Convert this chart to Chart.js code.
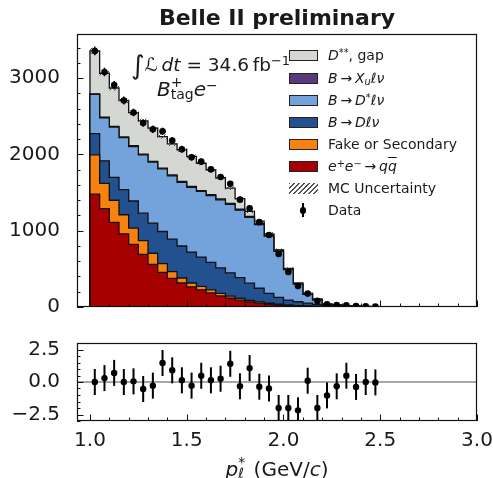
<!DOCTYPE html>
<html lang="en">
<head>
<meta charset="utf-8">
<title>Belle II preliminary - lepton momentum</title>
<script src="https://cdn.jsdelivr.net/npm/chart.js@4.4.1/dist/chart.umd.min.js"></script>
<style>
  html, body { margin: 0; padding: 0; background: #fff; }
  #page { position: relative; width: 493px; height: 478px; overflow: hidden; background: #fff;
          font-family: 'DejaVu Sans', sans-serif; color: #1a1a1a; }
  canvas { position: absolute; left: 0; }
  #main-chart { top: 0; }
  #pull-chart { top: 330px; }
  .label { position: absolute; white-space: nowrap; line-height: 1; }
  .label sup, .label sub { font-size: 70%; line-height: 0; position: relative; vertical-align: baseline; }
  .label sup { top: -0.45em; }
  .label sub { top: 0.25em; }
  .ss { display: inline-block; position: relative; height: 1em; }
  .ss span { position: absolute; left: 0; font-size: 70%; line-height: 1; }
  #title { left: 77px; width: 400px; top: 7px; text-align: center; font-weight: bold; font-size: 22px; }
  #lumi { left: 131px; top: 49px; font-size: 18.5px; }
  #lumi .int { font-size: 26px; position: relative; top: 3px; }
  #tag { left: 157px; top: 76px; font-size: 20px; }
  #xtitle { left: 77px; width: 400px; top: 456px; text-align: center; font-size: 20px; }
  .leg-row { position: absolute; left: 289px; width: 190px; height: 14px; }
  .leg-patch { position: absolute; left: 0; top: 2px; width: 27px; height: 9px; border: 1px solid #222; }
  .leg-text { position: absolute; left: 39px; top: 0; font-size: 14px; line-height: 1; white-space: nowrap; }
  .bar { text-decoration: overline; }
</style>
</head>
<body>
<div id="page">
  <canvas id="main-chart" width="493" height="330"></canvas>
  <canvas id="pull-chart" width="493" height="148"></canvas>

  <div id="title" class="label">Belle II preliminary</div>
  <div id="lumi" class="label"><span class="int">∫</span><i>ℒ</i>&thinsp;<i>dt</i> = 34.6&thinsp;fb<sup>−1</sup></div>
  <div id="tag" class="label"><i>B</i><span class="ss" style="width:23px"><span style="top:-1px">+</span><span style="top:11px">tag</span></span><i>e</i><sup>−</sup></div>
  <div id="xtitle" class="label"><i>p</i><span class="ss" style="width:9px"><span style="top:-1px">*</span><span style="top:10px"><i>ℓ</i></span></span> (GeV/<i>c</i>)</div>

  <div id="legend"></div>
</div>

<script>
// p*_l bin edges (GeV/c)
const binEdges = [1.00, 1.05, 1.10, 1.15, 1.20, 1.25, 1.30, 1.35, 1.40, 1.45, 1.50,
                  1.55, 1.60, 1.65, 1.70, 1.75, 1.80, 1.85, 1.90, 1.95, 2.00,
                  2.05, 2.10, 2.15, 2.20, 2.25, 2.30, 2.35, 2.40, 2.45, 2.50];

// MC components, events per bin (bottom of the stack first)
const qqbar         = [1480, 1290, 1110, 960, 820, 690, 560, 455, 375, 315, 265, 225, 185, 145, 115, 90, 68, 50, 36, 26, 18, 13, 9, 6, 4, 3, 2, 2, 1, 1];
const fakeSecondary = [515, 330, 290, 250, 215, 180, 145, 115, 90, 65, 50, 45, 40, 33, 28, 24, 20, 16, 13, 10, 8, 6, 5, 4, 3, 2, 2, 1, 1, 1];
const bToDlnu       = [278, 297, 300, 330, 355, 360, 395, 420, 425, 420, 405, 385, 360, 335, 305, 270, 225, 180, 130, 90, 65, 50, 36, 25, 15, 9, 5, 3, 2, 1];
const bToDstarlnu   = [515, 563, 660, 680, 715, 765, 800, 820, 830, 835, 850, 860, 875, 892, 897, 886, 862, 834, 751, 604, 399, 231, 115, 55, 8, 3, 1, 0, 0, 0];
const bToXulnu      = [8, 8, 9, 9, 10, 10, 10, 11, 11, 11, 12, 12, 12, 12, 13, 13, 13, 13, 14, 14, 14, 14, 13, 13, 12, 11, 9, 7, 4, 2];
const dstarstarGap  = [564, 577, 503, 479, 433, 435, 435, 414, 409, 416, 393, 358, 328, 278, 202, 137, 67, 32, 16, 6, 2, 0, 0, 0, 0, 0, 0, 0, 0, 0];
const mcUncertainty = [40, 37, 35, 33, 31, 30, 29, 28, 27, 26, 26, 25, 25, 24, 24, 23, 22, 21, 20, 17, 13, 9, 6, 4, 2, 2, 1, 1, 1, 1];

// data and pulls
const dataCounts = [3358, 3082, 2910, 2708, 2551, 2413, 2331, 2304, 2182, 2068, 1963, 1906, 1805, 1705, 1615, 1408, 1293, 1113, 945, 695, 460, 274, 176, 80, 35, 26, 21, 12, 8, 5];
const dataErrors = [58, 56, 54, 52, 50, 49, 48, 48, 47, 45, 44, 44, 42, 41, 40, 38, 36, 33, 31, 26, 21, 17, 13, 9, 6, 5, 5, 3, 3, 2];
const pulls = [0.0, 0.3, 0.7, 0.0, 0.05, -0.54, -0.28, 1.46, 0.9, 0.13, -0.28, 0.48, 0.13, 0.25, 1.4, -0.33, 1.07, -0.36, -0.5, -2.0, -2.0, -2.18, 0.1, -2.0, -1.03, -0.33, 0.48, -0.38, 0.0, -0.03];

// axes
const xTicks = [1.0, 1.5, 2.0, 2.5, 3.0];
const yTicksMain = [0, 1000, 2000, 3000];
const yTicksPull = [-2.5, 0.0, 2.5];
const X_MIN = 0.933, X_MAX = 3.0;

Chart.defaults.font.family = "'DejaVu Sans', sans-serif";
Chart.defaults.color = '#1a1a1a';

const INK = '#111';

// stack definition, bottom first
const stackOrder = [
    { label: 'e+e- -> qq', values: qqbar, color: '#a60000' },
    { label: 'Fake or Secondary', values: fakeSecondary, color: '#f8820f' },
    { label: 'B -> D l nu', values: bToDlnu, color: '#23508e' },
    { label: 'B -> D* l nu', values: bToDstarlnu, color: '#74a2da' },
    { label: 'B -> Xu l nu', values: bToXulnu, color: '#583a7c' },
    { label: 'D**, gap', values: dstarstarGap, color: '#d5d7d3' },
];

const binCenters = binEdges.slice(0, -1).map((e, i) => (e + binEdges[i + 1]) / 2);

// points for a closed step outline: up at the first edge, down at the last one
const stepPoints = (heights) => {
    const last = binEdges.length - 1;
    const pts = [{ x: binEdges[0], y: 0 }];
    heights.forEach((h, i) => pts.push({ x: binEdges[i], y: h }));
    pts.push({ x: binEdges[last], y: heights[heights.length - 1] });
    pts.push({ x: binEdges[last], y: 0 });
    return pts;
};

const running = binCenters.map(() => 0);
const stackDatasets = stackOrder.map(c => {
    c.values.forEach((v, i) => { running[i] += v; });
    return {
        label: c.label,
        data: stepPoints(running.slice()),
        stepped: 'before',
        fill: 'origin',
        backgroundColor: c.color,
        borderColor: INK,
        borderWidth: 1.3,
        pointRadius: 0,
    };
});
const mcTotal = running.slice();

// hatch pattern for the MC uncertainty band
const makeHatch = () => {
    const c = document.createElement('canvas');
    c.width = 5; c.height = 5;
    const g = c.getContext('2d');
    g.strokeStyle = '#444';
    g.lineWidth = 1;
    g.beginPath();
    g.moveTo(-1, 6); g.lineTo(6, -1);
    g.moveTo(-1, 1); g.lineTo(1, -1);
    g.moveTo(4, 6); g.lineTo(6, 4);
    g.stroke();
    return g.createPattern(c, 'repeat');
};

// frame, inward ticks, error bars, hatch band, zero line
const axisDecor = {
    id: 'axisDecor',
    beforeDatasetsDraw(chart, args, opts) {
        if (opts.zeroLine === undefined) return;
        const { ctx, chartArea: a, scales: { y } } = chart;
        const py = y.getPixelForValue(opts.zeroLine);
        ctx.save();
        ctx.strokeStyle = '#8a8a8a';
        ctx.lineWidth = 1.5;
        ctx.beginPath();
        ctx.moveTo(a.left, py);
        ctx.lineTo(a.right, py);
        ctx.stroke();
        ctx.restore();
    },
    beforeDatasetDraw(chart, args, opts) {
        if (args.index !== 0) return;
        const { ctx, chartArea: a, scales: { x, y } } = chart;
        ctx.save();
        ctx.beginPath();
        ctx.rect(a.left, a.top, a.right - a.left, a.bottom - a.top);
        ctx.clip();
        if (opts.band) {
            ctx.fillStyle = makeHatch();
            opts.band.center.forEach((c, i) => {
                const x0 = x.getPixelForValue(binEdges[i]);
                const x1 = x.getPixelForValue(binEdges[i + 1]);
                const y0 = y.getPixelForValue(c + opts.band.err[i]);
                const y1 = y.getPixelForValue(c - opts.band.err[i]);
                ctx.fillRect(x0, y0, x1 - x0, y1 - y0);
            });
        }
        ctx.strokeStyle = '#000';
        ctx.lineWidth = opts.errWidth;
        chart.data.datasets[0].data.forEach((p, i) => {
            const e = opts.errors[i];
            const px = x.getPixelForValue(p.x);
            ctx.beginPath();
            ctx.moveTo(px, y.getPixelForValue(p.y - e));
            ctx.lineTo(px, y.getPixelForValue(p.y + e));
            ctx.stroke();
        });
        ctx.restore();
    },
    afterDatasetsDraw(chart, args, opts) {
        const { ctx, chartArea: a, scales: { x, y } } = chart;
        ctx.save();
        ctx.strokeStyle = INK;
        ctx.lineWidth = 1;
        const tick = (scale, v, len, horizontal) => {
            const p = Math.round(scale.getPixelForValue(v)) + 0.5;
            ctx.beginPath();
            if (horizontal) { ctx.moveTo(p, a.bottom); ctx.lineTo(p, a.bottom - len); }
            else { ctx.moveTo(a.left, p); ctx.lineTo(a.left + len, p); }
            ctx.stroke();
        };
        for (let v = opts.xMinor[0]; v <= opts.xMinor[1] + 1e-9; v += opts.xMinor[2]) tick(x, v, 3.5, true);
        for (let v = opts.yMinor[0]; v <= opts.yMinor[1] + 1e-9; v += opts.yMinor[2]) tick(y, v, 3.5, false);
        xTicks.forEach(v => tick(x, v, 6.5, true));
        opts.yMajor.forEach(v => tick(y, v, 6.5, false));
        ctx.lineWidth = 1.2;
        ctx.strokeRect(a.left + 0.5, a.top + 0.5, a.right - a.left - 1, a.bottom - a.top - 1);
        ctx.restore();
    }
};

const baseOptions = (padding) => ({
    responsive: false,
    animation: false,
    events: [],
    layout: { padding, autoPadding: false },
    plugins: { legend: { display: false }, tooltip: { enabled: false } },
});

// main stacked histogram
const mainOptions = baseOptions({ top: 34, right: 16, left: 0, bottom: 0 });
mainOptions.plugins.axisDecor = {
    errors: dataErrors,
    errWidth: 1.5,
    band: { center: mcTotal, err: mcUncertainty },
    xMinor: [1.0, 3.0, 0.1],
    yMinor: [0, 3400, 200],
    yMajor: yTicksMain,
};
mainOptions.scales = {
    x: {
        type: 'linear', min: X_MIN, max: X_MAX,
        ticks: { display: false },
        grid: { display: false },
        border: { display: false },
        afterFit: (s) => { s.height = 23; s.paddingLeft = 0; s.paddingRight = 0; },
    },
    y: {
        type: 'linear', min: 0, max: 3580,
        afterBuildTicks: (s) => { s.ticks = yTicksMain.map(v => ({ value: v })); },
        ticks: { padding: 9, font: { size: 20 }, color: '#1a1a1a', callback: (v) => String(v) },
        grid: { display: false },
        border: { display: false },
        afterFit: (s) => { s.width = 77; s.paddingTop = 0; s.paddingBottom = 0; },
    },
};

new Chart(document.getElementById('main-chart'), {
    type: 'line',
    data: {
        datasets: [{
            label: 'Data',
            data: binCenters.map((x, i) => ({ x, y: dataCounts[i] })),
            showLine: false,
            pointRadius: 3.3,
            pointBackgroundColor: '#000',
            pointBorderWidth: 0,
        }, ...stackDatasets],
    },
    options: mainOptions,
    plugins: [axisDecor],
});

// pull panel
const pullOptions = baseOptions({ top: 13, right: 16, left: 0, bottom: 0 });
pullOptions.plugins.axisDecor = {
    errors: pulls.map(() => 1),
    errWidth: 2,
    zeroLine: 0,
    xMinor: [1.0, 3.0, 0.1],
    yMinor: [-3, 3, 0.5],
    yMajor: yTicksPull,
};
pullOptions.scales = {
    x: {
        type: 'linear', min: X_MIN, max: X_MAX,
        afterBuildTicks: (s) => { s.ticks = xTicks.map(v => ({ value: v })); },
        ticks: { padding: 0, maxRotation: 0, autoSkip: false, font: { size: 20 }, color: '#1a1a1a', callback: (v) => v.toFixed(1) },
        grid: { display: false },
        border: { display: false },
        afterFit: (s) => { s.height = 57; s.paddingLeft = 0; s.paddingRight = 0; },
    },
    y: {
        type: 'linear', min: -3, max: 3,
        afterBuildTicks: (s) => { s.ticks = yTicksPull.map(v => ({ value: v })); },
        ticks: { padding: 9, font: { size: 20 }, color: '#1a1a1a',
                 callback: (v) => (v < 0 ? '\u2212' : '') + Math.abs(v).toFixed(1) },
        grid: { display: false },
        border: { display: false },
        afterFit: (s) => { s.width = 77; s.paddingTop = 0; s.paddingBottom = 0; },
    },
};

new Chart(document.getElementById('pull-chart'), {
    type: 'line',
    data: {
        datasets: [{
            label: 'Pull',
            data: binCenters.map((x, i) => ({ x, y: pulls[i] })),
            showLine: false,
            pointRadius: 3.2,
            pointBackgroundColor: '#000',
            pointBorderWidth: 0,
        }],
    },
    options: pullOptions,
    plugins: [axisDecor],
});

// legend, top to bottom as in the reference
const legendRows = [
    { html: '<i>D</i><sup>**</sup>, gap', color: '#d5d7d3' },
    { html: '<i>B</i>&thinsp;→&thinsp;<i>X</i><sub><i>u</i></sub><i>ℓν</i>', color: '#583a7c' },
    { html: '<i>B</i>&thinsp;→&thinsp;<i>D</i><sup>*</sup><i>ℓν</i>', color: '#74a2da' },
    { html: '<i>B</i>&thinsp;→&thinsp;<i>Dℓν</i>', color: '#23508e' },
    { html: 'Fake or Secondary', color: '#f8820f' },
    { html: '<i>e</i><sup>+</sup><i>e</i><sup>−</sup>&thinsp;→&thinsp;<i>q</i><i class="bar">q</i>', color: '#a60000' },
    { html: 'MC Uncertainty', hatch: true },
    { html: 'Data', marker: true },
];
const legendCenters = [55, 77.5, 100, 122, 144, 166, 188, 210];
const legend = document.getElementById('legend');
legendRows.forEach((row, i) => {
    const div = document.createElement('div');
    div.className = 'leg-row label';
    div.style.top = (legendCenters[i] - 7) + 'px';
    let handle;
    if (row.marker) {
        handle = '<div style="position:absolute;left:13px;top:0;width:1.5px;height:14px;background:#000"></div>' +
                 '<div style="position:absolute;left:10.5px;top:4px;width:6.5px;height:6.5px;border-radius:50%;background:#000"></div>';
    } else if (row.hatch) {
        handle = '<div class="leg-patch" style="border:none;width:29px;height:11px;background:repeating-linear-gradient(135deg,#555 0 1px,#fff 1px 3.5px)"></div>';
    } else {
        handle = `<div class="leg-patch" style="background:${row.color}"></div>`;
    }
    div.innerHTML = handle + `<span class="leg-text">${row.html}</span>`;
    legend.appendChild(div);
});
</script>
</body>
</html>
